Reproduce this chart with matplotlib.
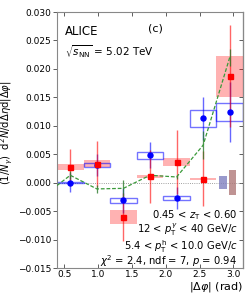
import numpy as np
import matplotlib
matplotlib.use('Agg')
import matplotlib.pyplot as plt
from matplotlib.patches import Rectangle

# ---- data ----
dphi = [0.589, 0.982, 1.374, 1.767, 2.160, 2.553, 2.945]
bin_lo = [0.393, 0.785, 1.178, 1.571, 1.963, 2.356, 2.749]
bin_hi = [0.785, 1.178, 1.571, 1.963, 2.356, 2.749, 3.142]

red_y = [0.0027, 0.0033, -0.0060, 0.0011, 0.0036, 0.0007, 0.0187]
red_stat = [0.0032, 0.0040, 0.0042, 0.0047, 0.0056, 0.0048, 0.0090]
red_sys = [0.0005, 0.0006, 0.0012, 0.0003, 0.0007, 0.0002, 0.0036]

blue_y = [0.0000, 0.0031, -0.0031, 0.0048, -0.0027, 0.0113, 0.0124]
blue_stat = [0.0017, 0.0020, 0.0022, 0.0023, 0.0020, 0.0038, 0.0053]
blue_sys = [0.0001, 0.0004, 0.00045, 0.0006, 0.0004, 0.0015, 0.0016]

model_x = [0.393, 0.589, 0.982, 1.374, 1.767, 2.160, 2.553, 2.945]
model_y = [-0.0005, 0.0013, -0.0011, -0.0010, 0.0013, 0.0010, 0.0066, 0.0220]
model_err = [0.0, 0.0007, 0.0007, 0.0015, 0.0003, 0.0003, 0.0025, 0.0015]

norm_blue = [2.79, 2.91, 0.0012]
norm_brown = [2.94, 3.04, 0.0022]

xticks = [0.5, 1.0, 1.5, 2.0, 2.5, 3.0]
yticks = [-0.015, -0.010, -0.005, 0.000, 0.005, 0.010, 0.015, 0.020, 0.025, 0.030]

# ---- figure ----
fig = plt.figure(figsize=(2.49, 2.99), dpi=100)
ax = fig.add_axes([57/249, 1-268/299, (243-57)/249, (268-12)/299])
ax.set_xlim(np.pi/8, np.pi)
ax.set_ylim(-0.015, 0.030)

ax.axhline(0, color='gray', ls=':', lw=0.6, zorder=1)

for lo, hi, y, s in zip(bin_lo, bin_hi, red_y, red_sys):
    ax.add_patch(Rectangle((lo, y - s), hi - lo, 2 * s, facecolor='red',
                           alpha=0.3, edgecolor='none', zorder=2))
for lo, hi, y, s in zip(bin_lo, bin_hi, blue_y, blue_sys):
    ax.add_patch(Rectangle((lo, y - s), hi - lo, 2 * s, facecolor='none',
                           edgecolor='blue', alpha=0.55, lw=1.0, zorder=2))

ax.add_patch(Rectangle((norm_blue[0], -norm_blue[2]), norm_blue[1] - norm_blue[0],
                       2 * norm_blue[2], facecolor='#8080c0', alpha=0.8,
                       edgecolor='none', zorder=2))
ax.add_patch(Rectangle((norm_brown[0], -norm_brown[2]), norm_brown[1] - norm_brown[0],
                       2 * norm_brown[2], facecolor='#b07878', alpha=0.8,
                       edgecolor='none', zorder=2))

ax.errorbar(dphi, blue_y, yerr=blue_stat, fmt='none', ecolor='blue', alpha=0.6,
            elinewidth=1.0, zorder=3)
ax.errorbar(dphi, red_y, yerr=red_stat, fmt='none', ecolor='red', alpha=0.6,
            elinewidth=1.0, zorder=3)

ax.errorbar(model_x[1:], model_y[1:], yerr=model_err[1:], fmt='none',
            ecolor='#2a7a2a', elinewidth=0.9, alpha=0.8, zorder=4)
ax.plot(model_x, model_y, color='#3a9a3a', ls=(0, (3, 1.5)), lw=0.9, zorder=4)

ax.plot(dphi, blue_y, 'o', color='blue', ms=3.6, zorder=5)
ax.plot(dphi, red_y, 's', color='red', ms=3.6, zorder=5)

ax.set_xticks(xticks)
ax.set_yticks(yticks)
ax.set_xticklabels([f'{v:.1f}' for v in xticks])
ax.set_yticklabels([f'{v:.3f}'.replace('-', '\u2212') for v in yticks])
ax.tick_params(axis='both', labelsize=6.5, length=3, width=0.6, colors='#444444',
               labelcolor='black')
ax.tick_params(axis='x', direction='in', top=True, pad=1.5)
ax.tick_params(axis='y', direction='out', pad=1)
for sp in ax.spines.values():
    sp.set_color('#888888')
    sp.set_linewidth(0.8)

# right ticks inward
axr = ax.secondary_yaxis('right')
axr.set_yticks(yticks)
axr.tick_params(direction='in', length=3, width=0.6, labelright=False, colors='#444444')

ax.set_xlabel(r'$|\Delta\varphi|$ (rad)', fontsize=8, loc='right', labelpad=1)
ax.set_ylabel(r'$(1/N_{\gamma})$  d$^2N$/d$\Delta\eta$d$|\Delta\varphi|$',
              fontsize=7.2)
ax.yaxis.set_label_coords(-0.225, 0.53)

ax.text(0.045, 0.95, 'ALICE', transform=ax.transAxes, fontsize=8.5,
        va='top', ha='left')
ax.text(0.49, 0.955, '(c)', transform=ax.transAxes, fontsize=8, va='top', ha='left')
ax.text(0.045, 0.875, r'$\sqrt{s_{\rm NN}}$ = 5.02 TeV', transform=ax.transAxes,
        fontsize=7.5, va='top', ha='left')

lines = [r'0.45 < $z_{\rm T}$ < 0.60',
         r'12 < $p_{\rm T}^{\gamma}$ < 40 GeV/$c$',
         r'5.4 < $p_{\rm T}^{\rm h}$ < 10.0 GeV/$c$',
         r'$\chi^2$ = 2.4, ndf = 7, $p$ = 0.94']
line_y = [0.207, 0.149, 0.085, 0.026]
for t, yy in zip(lines, line_y):
    ax.text(0.97, yy, t, transform=ax.transAxes, fontsize=7.2,
            ha='right', va='center')

fig.savefig('out.png', dpi=100)
